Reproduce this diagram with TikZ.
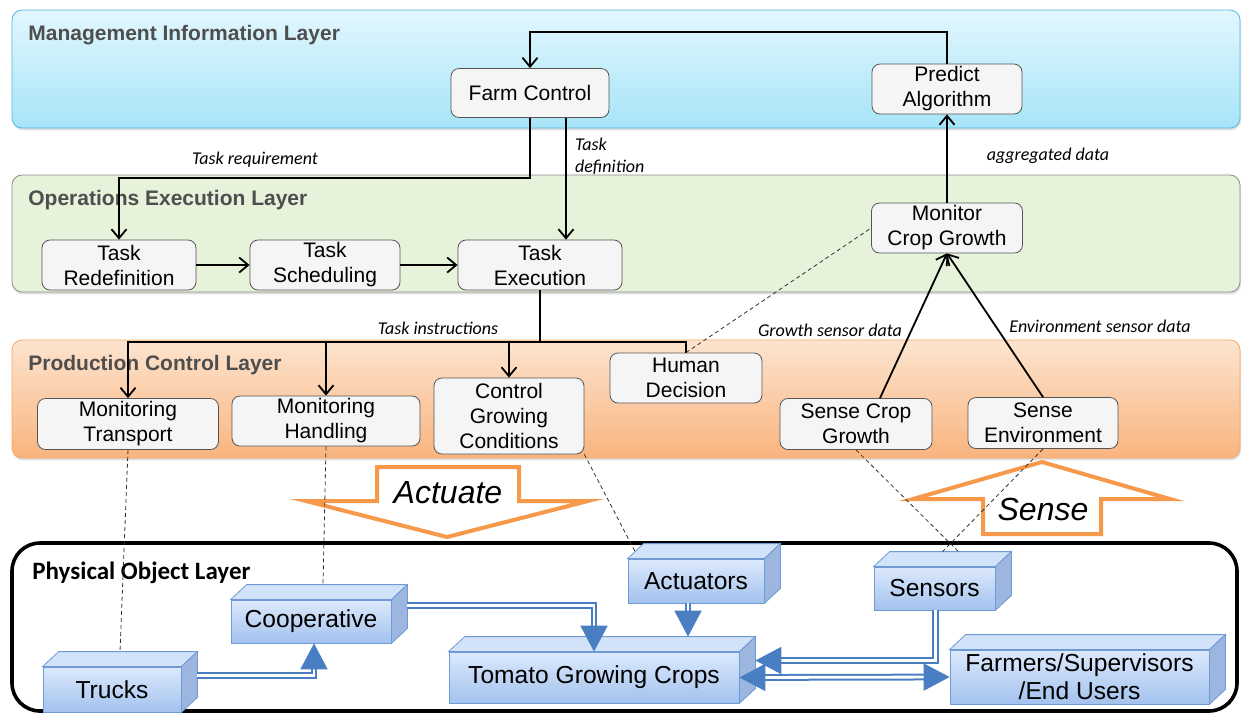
\documentclass[tikz,border=0pt]{standalone}
\usepackage{fontspec}
\setmainfont{Liberation Sans}
\newfontfamily\calibri{Carlito}
\usetikzlibrary{arrows.meta,shadows}

\definecolor{milTop}{HTML}{E2F7FE}
\definecolor{milBot}{HTML}{A6E4F8}
\definecolor{milLine}{HTML}{55B9D9}
\definecolor{oelFill}{HTML}{E6F2DA}
\definecolor{oelLine}{HTML}{8C8C8C}
\definecolor{pclTop}{HTML}{FDE4CF}
\definecolor{pclBot}{HTML}{F9B47E}
\definecolor{pclLine}{HTML}{F4A664}
\definecolor{titleGray}{HTML}{4E4E4E}
\definecolor{boxFill}{HTML}{F5F5F5}
\definecolor{boxLine}{HTML}{555555}
\definecolor{bigOrange}{HTML}{F7994A}
\definecolor{cubeTop}{HTML}{DCE9FC}
\definecolor{cubeBot}{HTML}{A3C2EE}
\definecolor{cubeLine}{HTML}{6E9AD5}
\definecolor{cubeLid}{HTML}{D2E2F8}
\definecolor{cubeSide}{HTML}{9CB6DF}
\definecolor{pipeBlue}{HTML}{4A7EC2}

\begin{document}
\begin{tikzpicture}[x=0.5pt,y=-0.5pt,
	wire/.style={line width=0.9pt},
	flow/.style={wire,-{Straight Barb[length=4.5pt,width=7.5pt]}},
	link/.style={line width=0.4pt,dash pattern=on 2pt off 1.5pt,draw=black!80},
	box/.style={draw=boxLine,fill=boxFill,rounded corners=4pt,align=center,inner sep=0pt,font=\fontsize{10.5}{12.5}\selectfont},
	layer/.style={rounded corners=5pt,drop shadow={shadow xshift=0.5pt,shadow yshift=-1.2pt,opacity=0.25}},
	layertitle/.style={anchor=base west,inner sep=0pt,font=\fontsize{10.5}{12}\selectfont\bfseries,text=titleGray},
	note/.style={font=\calibri\itshape\fontsize{9}{11}\selectfont},
	cube/.style={draw=cubeLine,top color=cubeTop,bottom color=cubeBot,inner sep=0pt,align=center,font=\fontsize{12.3}{14}\selectfont},
	pipe/.style={draw=pipeBlue,double=white,double distance=1.4pt,line width=1pt},
	tip/.style={-{Triangle[length=13pt,width=13.5pt]}},
	bigarrow/.style={draw=bigOrange,fill=white,line width=2pt,line join=miter}]
	\useasboundingbox (0,0) rectangle (1243,714);
	%\draw[help lines] (0,0) grid[step=50] (1243,714);

	% layers
	\draw[layer,draw=milLine,top color=milTop,bottom color=milBot] (12,10) rectangle (1240,128);
	\node[layertitle] (miltitle) at (28,40) {Management Information Layer};
	\draw[layer,draw=oelLine,fill=oelFill] (12,175) rectangle (1240,292);
	\node[layertitle] (oeltitle) at (28,205) {Operations Execution Layer};
	\draw[layer,draw=pclLine,top color=pclTop,bottom color=pclBot] (12,340) rectangle (1240,458);
	\node[layertitle] (pcltitle) at (28,370) {Production Control Layer};
	\draw[line width=1.8pt,rounded corners=14pt] (12,543) rectangle (1237,711);
	\node[anchor=base west,inner sep=0pt,font=\calibri\bfseries\fontsize{12.5}{14}\selectfont] (poltitle) at (32,579) {Physical Object Layer};

	% tasks
	\node[box,minimum width=79pt,minimum height=24.5pt] (farm) at (530,93) {Farm Control};
	\node[box,minimum width=75pt,minimum height=25pt] (predict) at (947,89) {Predict\\Algorithm};
	\node[box,minimum width=77pt,minimum height=25pt] (redef) at (119,265) {Task\\Redefinition};
	\node[box,minimum width=75pt,minimum height=25pt] (sched) at (325,265) {Task\\Scheduling};
	\node[box,minimum width=82pt,minimum height=25pt] (exe) at (540,265) {Task\\Execution};
	\node[box,minimum width=75.5pt,minimum height=25pt] (monitor) at (947,228) {Monitor\\Crop Growth};
	\node[box,minimum width=90.5pt,minimum height=25.5pt] (transport) at (128,424) {Monitoring\\Transport};
	\node[box,minimum width=94pt,minimum height=25pt] (handling) at (326,421) {Monitoring\\Handling};
	\node[box,minimum width=75pt,minimum height=38pt] (cgc) at (509,416) {Control\\Growing\\Conditions};
	\node[box,minimum width=76pt,minimum height=25pt] (human) at (686,378) {Human\\Decision};
	\node[box,minimum width=76pt,minimum height=25.5pt] (scrop) at (856,424) {Sense Crop\\Growth};
	\node[box,minimum width=75pt,minimum height=25.5pt] (senv) at (1043,423) {Sense\\Environment};

	% control flow
	\coordinate (topbus) at (0,32);
	\coordinate (reqbus) at (0,178);
	\coordinate (bus) at (0,342);
	\coordinate (fdef) at ([xshift=18pt]farm.south);
	\draw[flow] (predict.north) -- (predict.north |- topbus) -| (farm.north);
	\draw[flow] (farm.south) -- (farm.south |- reqbus) -| (redef.north);
	\draw[flow] (fdef) -- (fdef |- exe.north);
	\draw[flow] (redef) -- (sched);
	\draw[flow] (sched) -- (exe);
	\draw[wire] (exe.south) -- (exe.south |- bus);
	\draw[flow] (exe.south |- bus) -| (transport.north);
	\draw[flow] (exe.south |- bus) -| (handling.north);
	\draw[flow] (exe.south |- bus) -| (cgc.north);
	\draw[wire] (exe.south |- bus) -| (human.north);
	\draw[flow] (monitor) -- (predict);
	\draw[flow] ([xshift=12pt]scrop.north) -- (monitor.south);
	\draw[flow] (senv.north) -- (monitor.south);

	\node[note] (lreq) at (255,160) {Task requirement};
	\node[note,anchor=west,align=left] (ldef) at (568,156) {Task\\definition};
	\node[note] (lins) at (438,328) {Task instructions};
	\node[note] (lagg) at (1048,156) {aggregated data};
	\node[note] (lgrow) at (830,330) {Growth sensor data};
	\node[note] (lenv) at (1100,326) {Environment sensor data};

	% physical objects
	\node[cube,minimum width=69pt,minimum height=22.5pt] (trucks) at (112,689.5) {Trucks};
	\node[cube,minimum width=80pt,minimum height=21.5pt] (coop) at (311,621.5) {Cooperative};
	\node[cube,minimum width=145pt,minimum height=25.5pt] (tomato) at (594,677.5) {Tomato Growing Crops};
	\node[cube,minimum width=68pt,minimum height=22pt] (act) at (696,581) {Actuators};
	\node[cube,minimum width=60.5pt,minimum height=21.5pt] (sens) at (934.5,588.5) {Sensors};
	\node[cube,minimum width=129.5pt,minimum height=27pt] (users) at (1079.5,677) {Farmers/Supervisors\\/End Users};
	\foreach \c in {trucks,coop,tomato,act,sens,users}{
		\filldraw[draw=cubeLine,fill=cubeLid] (\c.north west) -- ++(8pt,7.5pt) -- ([shift={(8pt,7.5pt)}]\c.north east) -- (\c.north east) -- cycle;
		\filldraw[draw=cubeLine,fill=cubeSide] (\c.north east) -- ++(8pt,7.5pt) -- ([shift={(8pt,7.5pt)}]\c.south east) -- (\c.south east) -- cycle;
		\coordinate (\c-lid) at ([shift={(8pt,7.5pt)}]\c.north);
	}

	\coordinate (actdrop) at ([xshift=-4pt]act.south);
	\draw[pipe,tip] ([shift={(8pt,7pt)}]trucks.east) -| ([xshift=1.5pt]coop.south);
	\draw[pipe,tip] ([shift={(8pt,8pt)}]coop.east) -| (tomato.north);
	\draw[pipe,tip] (actdrop) -- (actdrop |- tomato-lid);
	\draw[pipe,tip] ([xshift=0.5pt]sens.south) |- ([shift={(8pt,8.5pt)}]tomato.east);
	\draw[pipe,{Triangle[length=13pt,width=13.5pt]}-{Triangle[length=13pt,width=13.5pt]}] (tomato.east) -- (users.west);

	% actuate / sense
	\draw[bigarrow] (377,467) -- (519,467) -- (519,501) -- (588,501) -- (447,537) -- (306,501) -- (377,501) -- cycle;
	\node[font=\fontsize{16}{18}\selectfont\itshape] (actuate) at (448,493) {Actuate};
	\draw[bigarrow] (983,534) -- (1101,534) -- (1101,499) -- (1170,499) -- (1042,462) -- (913,499) -- (983,499) -- cycle;
	\node[font=\fontsize{16}{18}\selectfont\itshape] (sense) at (1043,509) {Sense};

	% links to the objects
	\draw[link] (human.north) -- (monitor.west);
	\draw[link] (transport.south) -- ([shift={(4pt,7.5pt)}]trucks.north);
	\draw[link] (handling.south) -- ([shift={(6pt,7.5pt)}]coop.north);
	\draw[link] (cgc.south east) -- ([shift={(4pt,3pt)}]act.north west);
	\draw[link] (scrop.south) -- ([shift={(12pt,7.5pt)}]sens.north);
	\draw[link] (senv.south) -- ([shift={(4pt,7.5pt)}]sens.north);
\end{tikzpicture}
\end{document}
